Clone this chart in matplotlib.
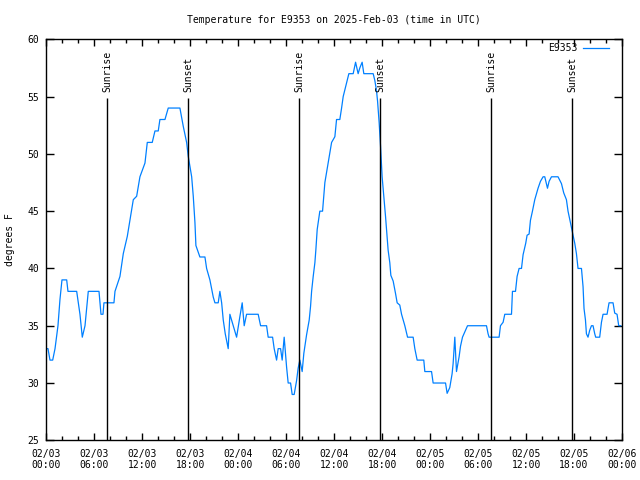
import numpy as np
import pandas as pd
import matplotlib
matplotlib.use('Agg')
import matplotlib.pyplot as plt
import matplotlib.dates as mdates

# hours since 2025-02-03 00:00 UTC, and temperature in deg F
hours = [0.0, 0.21, 0.46, 0.80, 1.09, 1.46, 1.71, 1.96, 2.55, 2.71, 3.80, 4.21, 4.50, 4.84, 5.25,
         6.59, 6.84, 7.09, 7.21, 8.46, 8.59, 9.21, 9.63, 10.13, 10.46, 10.88, 11.30, 11.71, 12.34,
         12.63, 13.25, 13.59, 14.00, 14.21, 14.84, 15.25, 16.71, 17.13, 17.55, 17.75, 18.18, 18.38,
         18.59, 18.71, 19.21, 19.84, 20.05, 20.46, 20.88, 21.09, 21.50, 21.71, 21.93, 22.13, 22.38,
         22.75, 22.96, 23.38, 23.80, 24.21, 24.50, 24.75, 25.05, 26.50, 26.80, 27.55, 27.75, 28.30,
         28.50, 28.80, 29.00, 29.30, 29.50, 29.75, 30.05, 30.25, 30.55, 30.75, 31.00, 31.30, 31.50,
         31.71, 32.00, 32.21, 32.55, 32.88, 33.05, 33.18, 33.38, 33.59, 33.71, 33.88, 34.21, 34.55,
         34.84, 35.25, 35.68, 36.09, 36.30, 36.71, 36.93, 37.13, 37.55, 37.84, 38.38, 38.68, 39.00,
         39.21, 39.50, 39.71, 40.88, 41.09, 41.30, 41.43, 41.63, 41.80, 42.00, 42.21, 42.43, 42.75,
         42.96, 43.09, 43.38, 43.68, 43.88, 44.21, 44.43, 44.84, 45.18, 45.88, 46.09, 46.38, 47.21,
         47.34, 48.18, 48.38, 49.93, 50.13, 50.46, 50.75, 50.88, 51.09, 51.30, 51.63, 51.80, 52.05,
         52.68, 55.05, 55.25, 55.38, 56.63, 56.80, 57.13, 57.34, 58.18, 58.30, 58.68, 58.88, 59.13,
         59.43, 59.63, 59.96, 60.13, 60.38, 60.55, 60.80, 61.09, 61.50, 61.80, 62.13, 62.34, 62.68,
         62.88, 63.18, 64.00, 64.43, 64.71, 65.05, 65.25, 65.55, 65.88, 66.09, 66.30, 66.50, 66.93,
         67.13, 67.25, 67.43, 67.55, 67.75, 67.96, 68.18, 68.38, 68.59, 68.71, 69.21, 69.43, 69.63,
         70.13, 70.38, 70.88, 71.09, 71.38, 71.59, 71.84]
temps = [33, 33, 32, 32, 33, 35, 37.3, 39, 39, 38, 38, 36, 34, 35, 38,
         38, 36, 36, 37, 37, 38, 39.3, 41.3, 42.8, 44.2, 46, 46.3, 48, 49.2,
         51, 51, 52, 52, 53, 53, 54, 54, 52.4, 51, 49.8, 48, 46.3,
         44, 42, 41, 41, 40, 39, 37.5, 37, 37, 38, 37, 35.5, 34.3,
         33, 36, 35, 34, 35.8, 37, 35, 36, 36, 35, 35, 34, 34,
         33, 32, 33, 33, 32, 34, 31.4, 30, 30, 29, 29, 30.2, 31.3,
         32, 31, 32.6, 34.2, 35.5, 36.7, 38, 39.3, 40.5, 41.6, 43.4, 45, 45,
         47.5, 49.2, 51, 51.5, 53, 53, 54, 55, 56.2, 57, 57, 58, 57,
         57.5, 58, 57, 57, 56.4, 55.5, 54.6, 52.7, 50.7, 48, 46.3, 44.5, 41.6,
         40.5, 39.4, 38.9, 37.8, 37, 36.8, 36, 35, 34, 34, 33, 32, 32,
         31, 31, 30, 30, 29.1, 29.6, 30.8, 31.7, 34, 31, 32.3, 33.2, 34,
         35, 35, 34.3, 34, 34, 35, 35.3, 36, 36, 38, 38, 39.3, 40,
         40, 41.2, 42.2, 42.9, 43, 44.2, 45, 46, 47, 47.6, 48, 48, 47,
         47.6, 48, 48, 47.4, 46.6, 46, 45, 44, 42.9, 42.2, 41.3, 40, 40,
         38.4, 36.5, 35.5, 34.3, 34, 34.6, 35, 35, 34.3, 34, 34, 35.3, 36,
         36, 37, 37, 36.1, 36, 35, 35]

sunrise_h = [7.63, 31.63, 55.63]
sunset_h = [17.75, 41.75, 65.75]

start = pd.Timestamp('2025-02-03 00:00')
t = start + pd.to_timedelta(hours, unit='h')

plt.rcParams['font.family'] = 'DejaVu Sans Mono'
plt.rcParams['font.size'] = 7

fig = plt.figure(figsize=(6.4, 4.8), dpi=100)
ax = fig.add_axes([46.3/640, 1 - 440.3/480, 575.7/640, 401/480])

ax.plot(t, temps, color='#0080ff', lw=0.9, label='E9353')

for h in sunrise_h:
    x = start + pd.Timedelta(hours=h)
    ax.vlines(x, 25, 54.9, color='black', lw=1)
    ax.text(x, 55.4, 'Sunrise', rotation=90, ha='center', va='bottom', fontsize=7)
for h in sunset_h:
    x = start + pd.Timedelta(hours=h)
    ax.vlines(x, 25, 54.9, color='black', lw=1)
    ax.text(x, 55.4, 'Sunset', rotation=90, ha='center', va='bottom', fontsize=7)

ax.set_xlim(start, start + pd.Timedelta(hours=72))
ax.set_ylim(25, 60)
ax.set_yticks(np.arange(25, 61, 5))
ax.xaxis.set_major_locator(mdates.HourLocator(byhour=[0, 6, 12, 18]))
ax.xaxis.set_minor_locator(mdates.HourLocator(byhour=range(0, 24, 2)))
ax.xaxis.set_major_formatter(mdates.DateFormatter('%m/%d\n%H:%M'))

ax.tick_params(which='both', direction='in', top=True, right=True, width=1, labelsize=7)
ax.tick_params(which='major', length=5, pad=6)
ax.tick_params(axis='y', which='major', length=6, pad=5)
ax.tick_params(which='minor', length=3)
for s in ax.spines.values():
    s.set_linewidth(1)

ax.legend(loc='upper right', bbox_to_anchor=(0.977, 0.99), frameon=False, markerfirst=False,
          fontsize=7, handlelength=2.7, borderaxespad=0, borderpad=0, handletextpad=0.5)

fig.text(334/640, 1 - 20/480, 'Temperature for E9353 on 2025-Feb-03 (time in UTC)',
         ha='center', va='center', fontsize=7)
fig.text(10/640, 0.5, 'degrees F', rotation=90, ha='center', va='center', fontsize=7)

fig.savefig('out.png', dpi=100)
